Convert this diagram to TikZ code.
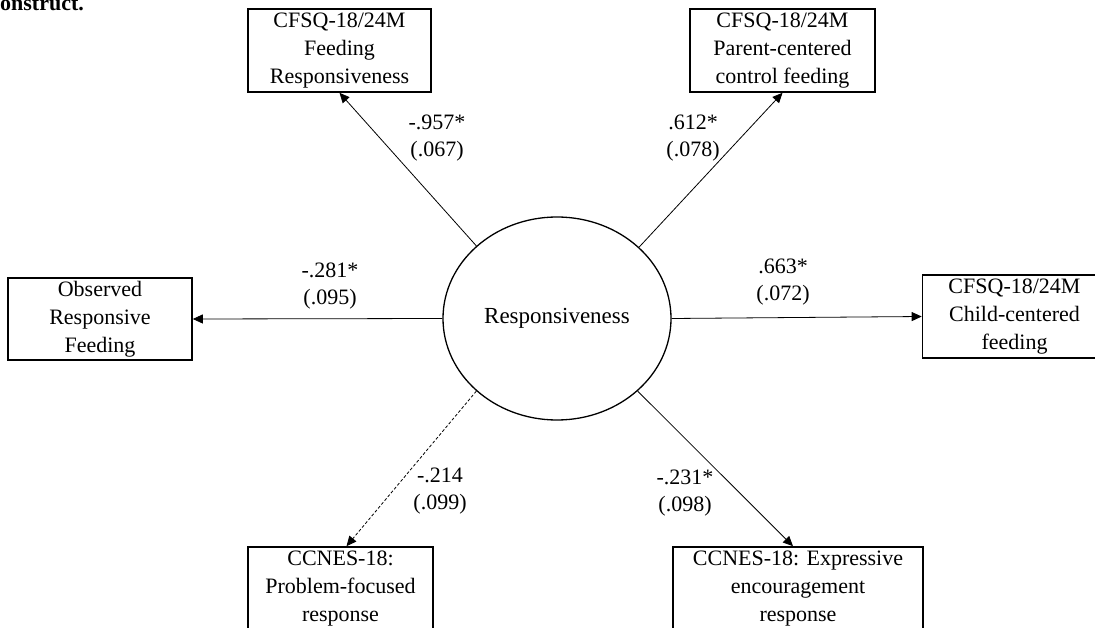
\documentclass[tikz,border=0pt]{standalone}
\usepackage{fontspec}
\setmainfont{Liberation Serif}
\usetikzlibrary{arrows.meta,shapes}
\tikzset{%
  >={Triangle[width=9pt,length=10pt]},
  % Specifications for style of nodes:
          base/.style = {draw=black, inner sep=0pt, align=center,
                         font=\fontsize{22}{28}\selectfont},
    measureBox/.style = {base, rectangle, line width=1.6pt,
                         minimum width=184pt, minimum height=83pt},
    latentOval/.style = {base, ellipse, line width=1.3pt,
                         minimum width=228pt, minimum height=203pt,
                         font=\fontsize{23}{28}\selectfont},
     loadLabel/.style = {align=center, inner sep=0pt,
                         font=\fontsize{22}{27}\selectfont},
      loadLine/.style = {->, line width=0.8pt},
}

\begin{document}
\begin{tikzpicture}[x=1pt, y=-1pt]
  \useasboundingbox (0,0) rectangle (1095,628);

  \node (captionFrag) [anchor=base west, inner sep=0pt, font=\fontsize{22}{26}\selectfont\bfseries]
                      at (0,11) {onstruct.};

  \node (respOval)    [latentOval] at (557,318.5) {Responsiveness};

  \node (feedRespBlock)   [measureBox, minimum width=183pt] at (339.5,50.5)
                          {CFSQ-18/24M \\ Feeding \\ Responsiveness};
  \node (parentCtrlBlock) [measureBox, minimum width=185pt] at (782.5,50.5)
                          {CFSQ-18/24M \\ Parent-centered \\ control feeding};
  \node (observedBlock)   [measureBox, minimum height=82pt] at (100,319)
                          {Observed \\ Responsive \\ Feeding};
  \node (childCentBlock)  [measureBox] at (1014.5,316.5)
                          {CFSQ-18/24M \\ Child-centered \\ feeding};
  \node (problemBlock)    [measureBox, minimum width=185pt] at (340.5,588.5)
                          {CCNES-18: \\ Problem-focused \\ response};
  \node (expressBlock)    [measureBox, minimum width=250pt] at (798,588.5)
                          {CCNES-18: Expressive \\ encouragement \\ response};

  % loadings with standard errors
  \node (feedRespLoad)   [loadLabel] at (437,138) {-.957*\\(.067)};
  \node (parentCtrlLoad) [loadLabel] at (693,138) {.612*\\(.078)};
  \node (observedLoad)   [loadLabel] at (330,286) {-.281*\\(.095)};
  \node (childCentLoad)  [loadLabel] at (783,282) {.663*\\(.072)};
  \node (problemLoad)    [loadLabel] at (440,491) {-.214\\(.099)};
  \node (expressLoad)    [loadLabel] at (685,493) {-.231*\\(.098)};

  % Specification of lines between nodes specified above
  \draw[loadLine]         (respOval.138) -- (feedRespBlock.south);
  \draw[loadLine]          (respOval.41) -- (parentCtrlBlock.south);
  \draw[loadLine]        (respOval.west) -- (observedBlock.east);
  \draw[loadLine]        (respOval.east) -- (childCentBlock.west);
  \draw[loadLine, dash pattern=on 3pt off 2pt]
                         (respOval.222) -- ([xshift=6pt]problemBlock.north);
  \draw[loadLine]         (respOval.318) -- ([xshift=-5pt]expressBlock.north);
\end{tikzpicture}
\end{document}
